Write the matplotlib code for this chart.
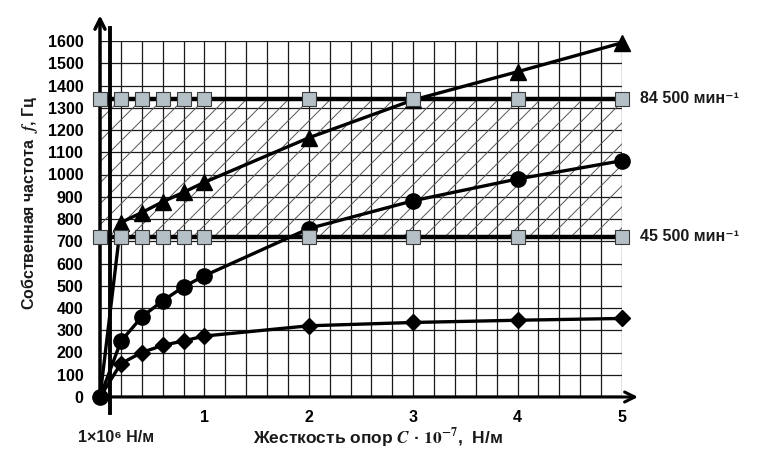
import numpy as np
import matplotlib
matplotlib.use("Agg")
import matplotlib.pyplot as plt
from matplotlib.patches import Rectangle
from matplotlib.transforms import blended_transform_factory

plt.rcParams["font.family"] = ["Liberation Sans", "DejaVu Sans"]
plt.rcParams["font.weight"] = "bold"
plt.rcParams["mathtext.fontset"] = "stix"

# stiffness C * 1e-7, N/m
stiffness = [0, 0.2, 0.4, 0.6, 0.8, 1.0, 2, 3, 4, 5]
freq_triangle = [0, 784, 829, 877, 920, 965, 1165, 1335, 1462, 1592]
freq_circle = [0, 250, 360, 432, 495, 545, 757, 882, 980, 1062]
freq_diamond = [0, 150, 200, 232, 252, 274, 320, 335, 345, 353]
speed_levels = [1340, 720]
speed_labels = ["84 500 мин⁻¹", "45 500 мин⁻¹"]
x_ticks = [1, 2, 3, 4, 5]
y_ticks = list(range(0, 1601, 100))
ref_stiffness = 0.1  # 1e6 N/m

W, H = 757, 459
fig = plt.figure(figsize=(W / 100, H / 100), dpi=100, facecolor="white")
ax = fig.add_axes([100 / W, (H - 397) / H, 522 / W, 356 / H])
ax.set_xlim(0, 5)
ax.set_ylim(0, 1600)
for s in ax.spines.values():
    s.set_visible(False)

ax.set_xticks(x_ticks)
ax.set_xticks(np.arange(0, 5.01, 0.2), minor=True)
ax.set_yticks(y_ticks)
ax.tick_params(which="both", length=0)
ax.tick_params(axis="y", pad=12)
ax.tick_params(axis="x", pad=9)
ax.set_xticklabels([str(t) for t in x_ticks], fontsize=11.5, fontweight="bold")
ax.set_yticklabels([str(t) for t in y_ticks], fontsize=11.5, fontweight="bold")
ax.grid(which="both", color="#1a1a1a", lw=0.9)
ax.set_axisbelow(True)

# hatched band between the two speed levels
lo, hi = min(speed_levels), max(speed_levels)
band = Rectangle((0, lo), 5, hi - lo, transform=ax.transData, facecolor="none", edgecolor="none")
ax.add_patch(band)
p0 = ax.transData.transform((0, 0))
sx = ax.transData.transform((1, 0))[0] - p0[0]
sy = ax.transData.transform((0, 1))[1] - p0[1]
step = 21 / sx
height_x = (hi - lo) * sy / sx
for off in np.arange(-height_x, 5 + step, step):
    ln, = ax.plot([off, off + height_x], [lo, hi], color="#555555", lw=0.7, zorder=1.5)
    ln.set_clip_path(band)

# axes lines and arrows
ax.axhline(0, xmin=0, xmax=1.0, color="black", lw=2.5, zorder=2)
ax.annotate("", xy=(1.036, 0), xytext=(0, 0), xycoords="axes fraction",
            arrowprops=dict(arrowstyle="->", lw=2.2, color="black", mutation_scale=18),
            annotation_clip=False, zorder=2)
ax.annotate("", xy=(0, 1.08), xytext=(0, -0.01), xycoords="axes fraction",
            arrowprops=dict(arrowstyle="->", lw=2.5, color="black", mutation_scale=18),
            annotation_clip=False, zorder=2)
ax.axvline(ref_stiffness, ymin=-0.045, ymax=1.037, color="black", lw=2.8, clip_on=False, zorder=2)

# curves
line_kw = dict(color="black", lw=2.4, clip_on=False, zorder=4)
ax.plot(stiffness, freq_diamond, marker="D", ms=8.5, markevery=slice(1, None), **line_kw)
ax.plot(stiffness, freq_triangle, marker="^", ms=11, markevery=slice(1, None), **line_kw)
ax.plot(stiffness, freq_circle, marker="o", ms=11, **line_kw)

for lvl, lab in zip(speed_levels, speed_labels):
    ax.plot(stiffness, [lvl] * len(stiffness), color="black", lw=3.2, marker="s", ms=9.5,
            mfc="#b4bfc6", mec="#3a3a3a", mew=0.8, clip_on=False, zorder=5)
    trans = blended_transform_factory(ax.transAxes, ax.transData)
    ax.text(1.035, lvl, lab, transform=trans, ha="left", va="center",
            fontsize=11.5, fontweight="bold", color="#1a1a1a")

fig.text(116 / W, 1 - 437 / H, "1×10⁶ Н/м", ha="center", va="center",
         fontsize=11.5, fontweight="bold", color="#1a1a1a")
fig.text(378 / W, 1 - 438 / H, r"Жесткость опор $C$ · $10^{-7}$,  Н/м", ha="center", va="center",
         fontsize=12.5, fontweight="bold", color="#1a1a1a")
fig.text(30 / W, 1 - 203 / H, r"Собственная частота  $f$, Гц", ha="center", va="center",
         rotation=90, fontsize=11.5, fontweight="bold", color="#1a1a1a")

fig.savefig("out.png", dpi=100, facecolor="white")
